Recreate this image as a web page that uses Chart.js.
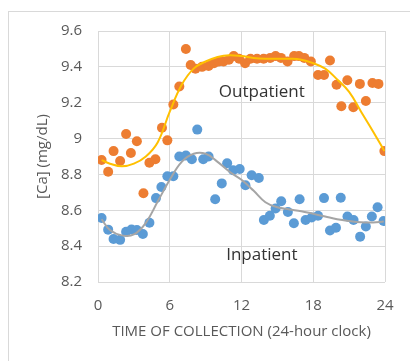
<!DOCTYPE html>
<html>
<head>
<meta charset="utf-8">
<script src="https://cdn.jsdelivr.net/npm/chart.js@4"></script>
<style>
  body { margin: 0; background: #fff; }
  #wrap { position: relative; width: 410px; height: 361px; overflow: hidden; }
  #frame { position: absolute; left: 8px; top: 11px; width: 420px; height: 380px;
           border-left: 1px solid #d9d9d9; border-top: 1px solid #d9d9d9; }
  canvas { position: absolute; left: 0; top: 0; }
</style>
</head>
<body>
<div id="wrap">
  <div id="frame"></div>
  <canvas id="g1" width="410" height="361"></canvas>
</div>
<script>
// outpatient points (hour, Ca)
var outHour = [0.3, 0.85, 1.3, 1.85, 2.35, 2.75, 3.25, 3.8, 4.3, 4.8, 5.35, 5.8, 6.3, 6.8, 7.35, 7.75,
  8.15, 8.7, 9.25, 9.7, 10.1, 10.5, 10.95, 11.35, 11.8, 12.3, 12.75, 13.3, 13.85, 14.4, 14.85, 15.3,
  15.85, 16.4, 16.8, 17.25, 17.8, 18.4, 18.9, 19.4, 19.95, 20.35, 20.85, 21.35, 21.9, 22.4, 22.95, 23.45, 23.95];
var outCa = [8.88, 8.815, 8.93, 8.875, 9.025, 8.92, 8.985, 8.695, 8.865, 8.885, 9.06, 8.99, 9.19, 9.29, 9.5, 9.41,
  9.39, 9.4, 9.405, 9.42, 9.43, 9.43, 9.44, 9.46, 9.445, 9.42, 9.445, 9.445, 9.445, 9.45, 9.46, 9.45,
  9.43, 9.46, 9.46, 9.45, 9.43, 9.355, 9.355, 9.435, 9.3, 9.18, 9.325, 9.175, 9.305, 9.21, 9.31, 9.305, 8.93];

// inpatient points
var inHour = [0.3, 0.85, 1.3, 1.85, 2.35, 2.8, 3.25, 3.75, 4.3, 4.85, 5.3, 5.8, 6.3, 6.8, 7.35, 7.85,
  8.3, 8.8, 9.25, 9.8, 10.35, 10.8, 11.3, 11.85, 12.33, 12.85, 13.45, 13.87, 14.37, 14.85, 15.32, 15.88,
  16.38, 16.86, 17.36, 17.87, 18.4, 18.9, 19.4, 19.9, 20.3, 20.86, 21.37, 21.92, 22.4, 22.9, 23.38, 23.88];
var inCa = [8.557, 8.492, 8.44, 8.435, 8.48, 8.493, 8.49, 8.468, 8.53, 8.668, 8.73, 8.79, 8.79, 8.9, 8.905, 8.885,
  9.05, 8.885, 8.9, 8.662, 8.75, 8.862, 8.823, 8.83, 8.74, 8.795, 8.78, 8.546, 8.57, 8.61, 8.65, 8.59,
  8.528, 8.662, 8.546, 8.56, 8.57, 8.668, 8.487, 8.503, 8.67, 8.565, 8.546, 8.453, 8.51, 8.565, 8.617, 8.54];

// trend lines
var outTrendHour = [0.3, 1, 2, 3, 4, 5, 6, 7, 8, 9, 10, 11, 12, 13, 14, 15, 16, 17, 18, 19, 20, 21, 22, 23, 23.95];
var outTrendCa = [8.88, 8.86, 8.845, 8.86, 8.9, 8.98, 9.15, 9.3, 9.39, 9.43, 9.455, 9.465, 9.46, 9.45, 9.445,
  9.445, 9.445, 9.44, 9.42, 9.39, 9.33, 9.26, 9.15, 9.04, 8.93];
var inTrendHour = [0.3, 1, 2, 3, 4, 5, 6, 7, 8, 9, 10, 11, 12, 13, 14, 15, 16, 17, 18, 19, 20, 21, 22, 23, 23.9];
var inTrendCa = [8.55, 8.49, 8.46, 8.465, 8.53, 8.65, 8.77, 8.87, 8.915, 8.915, 8.87, 8.815, 8.77, 8.71, 8.645,
  8.617, 8.605, 8.595, 8.58, 8.565, 8.55, 8.54, 8.533, 8.532, 8.537];

var xTicks = [0, 6, 12, 18, 24];
var yMin = 8.2, yMax = 9.6, yStep = 0.2;

// labels inside the plot
var seriesLabels = [
  {text: 'Outpatient', x: 13.7, y: 9.26},
  {text: 'Inpatient', x: 13.7, y: 8.35}
];

function pts(xs, ys) {
  return xs.map(function(x, i) { return {x: x, y: ys[i]}; });
}

var labelPlugin = {
  id: 'seriesLabels',
  afterDatasetsDraw: function(chart) {
    var ctx = chart.ctx;
    ctx.save();
    ctx.font = '17px "Open Sans"';
    ctx.fillStyle = '#333333';
    ctx.textAlign = 'center';
    ctx.textBaseline = 'middle';
    seriesLabels.forEach(function(l) {
      ctx.fillText(l.text, chart.scales.x.getPixelForValue(l.x), chart.scales.y.getPixelForValue(l.y));
    });
    ctx.restore();
  }
};

var tickFont = {family: '"Open Sans"', size: 15};

var myChart = new Chart(document.getElementById('g1'), {
  type: 'scatter',
  data: {
    datasets: [
      {
        label: 'Outpatient trend',
        data: pts(outTrendHour, outTrendCa),
        showLine: true, pointRadius: 0, borderColor: '#FFC000', borderWidth: 2,
        tension: 0.4, order: 0
      },
      {
        label: 'Inpatient trend',
        data: pts(inTrendHour, inTrendCa),
        showLine: true, pointRadius: 0, borderColor: '#A5A5A5', borderWidth: 2,
        tension: 0.4, order: 1
      },
      {
        label: 'Outpatient',
        data: pts(outHour, outCa),
        backgroundColor: '#ED7D31', borderWidth: 0, pointRadius: 5, order: 2
      },
      {
        label: 'Inpatient',
        data: pts(inHour, inCa),
        backgroundColor: '#5B9BD5', borderWidth: 0, pointRadius: 5, order: 3
      }
    ]
  },
  options: {
    responsive: false,
    animation: false,
    layout: { padding: {left: 0, top: 31, right: 25, bottom: 0} },
    plugins: { legend: {display: false}, tooltip: {enabled: false} },
    scales: {
      x: {
        type: 'linear', min: 0, max: 24,
        afterBuildTicks: function(s) { s.ticks = xTicks.map(function(v) { return {value: v}; }); },
        afterFit: function(s) { s.height = 79; },
        grid: { color: '#d9d9d9', drawTicks: false },
        border: { display: false },
        ticks: { color: '#595959', font: tickFont, padding: 15, maxRotation: 0 },
        title: { display: true, text: 'TIME OF COLLECTION (24-hour clock)', color: '#595959',
                 font: {family: '"Open Sans"', size: 15}, padding: {top: 0, bottom: 20} }
      },
      y: {
        min: yMin, max: yMax,
        ticks: { stepSize: yStep, color: '#595959', font: tickFont, padding: 16,
                 callback: function(v) { return Number(v.toFixed(1)).toString(); } },
        afterFit: function(s) { s.width = 98; },
        grid: { color: '#d9d9d9', drawTicks: false },
        border: { display: false },
        title: { display: true, text: '[Ca] (mg/dL)', color: '#595959',
                 font: {family: '"Open Sans"', size: 15}, padding: {top: 34, bottom: 0} }
      }
    }
  },
  plugins: [labelPlugin]
});
</script>
</body>
</html>
